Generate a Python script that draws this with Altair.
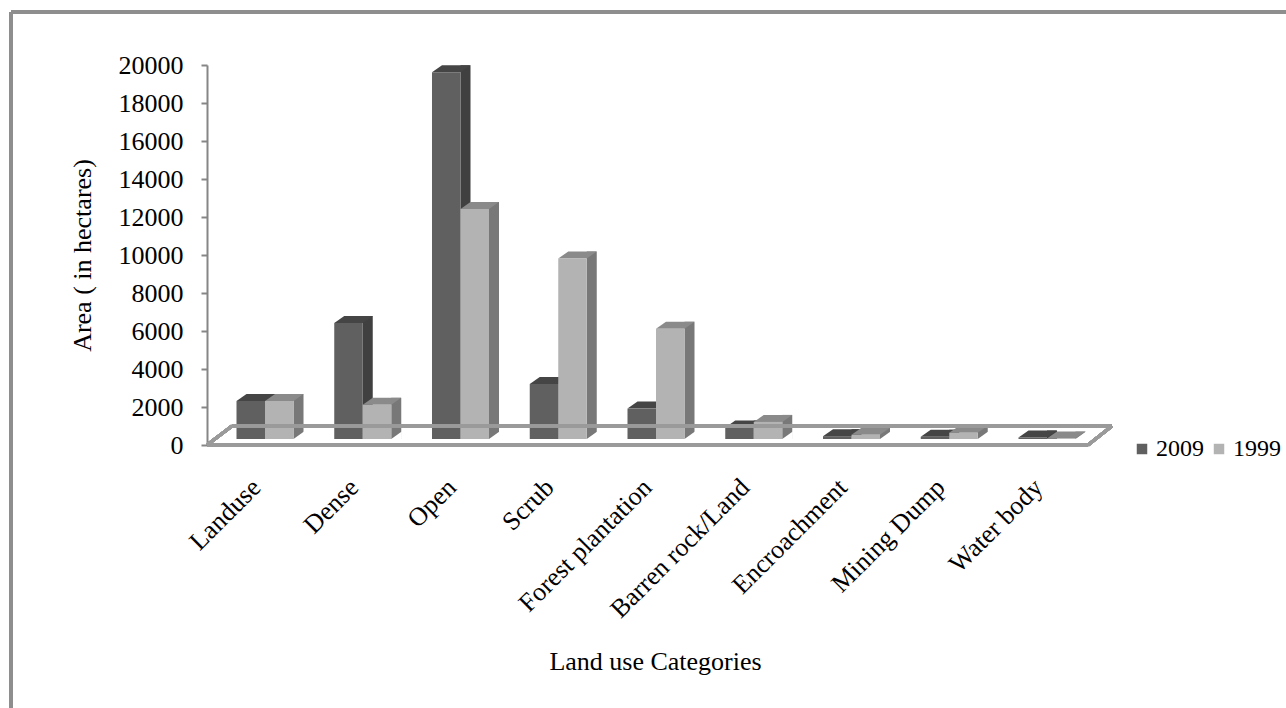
import json
import altair as alt
import pandas as pd

categories = ["Landuse", "Dense", "Open", "Scrub", "Forest plantation",
              "Barren rock/Land", "Encroachment", "Mining Dump", "Water body"]
area_2009 = [2000, 6100, 19300, 2900, 1600, 600, 150, 120, 80]
area_1999 = [2000, 1800, 12100, 9500, 5800, 900, 220, 330, 20]
years = ["2009", "1999"]
y_ticks = list(range(0, 20001, 2000))

rows = []
for i, c in enumerate(categories):
    rows.append({"idx": i, "category": c, "year": "2009", "area": area_2009[i]})
    rows.append({"idx": i, "category": c, "year": "1999", "area": area_1999[i]})
df = pd.DataFrame(rows)

FONT = "Liberation Serif"
AX = "#868686"
BAR_W = 0.2916   # bar width in category units
DX, DY, BASE = 10, 7, 6

base = alt.Chart(df).transform_calculate(
    x0=f"datum.year == '2009' ? datum.idx - {BAR_W} : datum.idx",
    x1=f"datum.year == '2009' ? datum.idx : datum.idx + {BAR_W}",
    zero="0",
)

xscale = alt.Scale(domain=[-0.5934, 8.665], nice=False, zero=False)
yscale = alt.Scale(domain=[0, 20000], nice=False)

label_expr = json.dumps(categories) + "[datum.value]"

x_axis = alt.Axis(values=list(range(len(categories))), labelExpr=label_expr,
                  labelAngle=315, labelAlign="right", labelBaseline="middle",
                  labelFont=FONT, labelFontSize=26, labelColor="black", labelLimit=400,
                  labelPadding=38, labelOffset=-9, domain=False, ticks=False, tickSize=0,
                  grid=False, titleFont=FONT,
                  titleFontSize=26, titleFontWeight="normal", titleColor="black",
                  titleX=448, titleY=224, titleAlign="center", titleBaseline="alphabetic",
                  labelOverlap=False)
y_axis = alt.Axis(values=y_ticks, format="d", tickSize=6, tickColor=AX, tickWidth=2,
                  domainColor=AX, domainWidth=2, labelFont=FONT, labelFontSize=26,
                  labelColor="black", labelPadding=18, grid=False,
                  titleFont=FONT, titleFontSize=26,
                  titleFontWeight="normal", titleColor="black", titleX=-117, titleY=190,
                  titleAngle=270, titleBaseline="alphabetic", titleAlign="center")
X_TITLE = "Land use Categories"
Y_TITLE = "Area ( in hectares)"


def xenc(field):
    return alt.X(field, scale=xscale, axis=x_axis, title=X_TITLE)


def yenc(field):
    return alt.Y(field, scale=yscale, axis=y_axis, title=Y_TITLE)


# frame (border) lines
border_left = alt.Chart(df).mark_rule(color="#8e8e8e", strokeWidth=3).encode(
    x=alt.value(-196), y=alt.value(-53), y2=alt.value(643))
border_top = alt.Chart(df).mark_rule(color="#8e8e8e", strokeWidth=3).encode(
    x=alt.value(-196), x2=alt.value(1079), y=alt.value(-53))

# 3D floor
floor_style = dict(color="#9a9a9a", strokeWidth=3)
floor_front = alt.Chart(df).mark_rule(**floor_style).encode(
    x=alt.value(0), x2=alt.value(881), y=alt.value(380))
floor_back = alt.Chart(df).mark_rule(**floor_style).encode(
    x=alt.value(25), x2=alt.value(905), y=alt.value(361))
floor_l = alt.Chart(df).mark_rule(**floor_style).encode(
    x=alt.value(0), x2=alt.value(25), y=alt.value(380), y2=alt.value(361))
floor_r = alt.Chart(df).mark_rule(**floor_style).encode(
    x=alt.value(881), x2=alt.value(905), y=alt.value(380), y2=alt.value(361))

side = base.mark_rect(x2Offset=DX, yOffset=-(BASE + DY), y2Offset=-BASE).encode(
    x=xenc("x1:Q"),
    x2="x1:Q",
    y=yenc("area:Q"),
    y2="zero:Q",
    color=alt.condition(alt.datum.year == "2009", alt.value("#404040"), alt.value("#787878")),
)

cover = base.transform_filter(alt.datum.year == "1999").mark_point(
    shape="M0,0L10.5,0L10.5,-7.5Z", size=4, filled=True, opacity=1, strokeWidth=0,
    yOffset=-BASE, color="white").encode(
    x=xenc("x1:Q"),
    y=yenc("zero:Q"),
)

top = base.mark_point(
    shape="M0,0L28.5,0L38.5,-7L10,-7Z", size=4, filled=True, opacity=1,
    strokeWidth=0, yOffset=-BASE).encode(
    x=xenc("x0:Q"),
    y=yenc("area:Q"),
    color=alt.condition(alt.datum.year == "2009", alt.value("#454545"), alt.value("#8a8a8a")),
)

front = base.mark_rect(yOffset=-BASE, y2Offset=-BASE).encode(
    x=xenc("x0:Q"),
    x2="x1:Q",
    y=yenc("area:Q"),
    y2="zero:Q",
    color=alt.Color("year:N", scale=alt.Scale(domain=years, range=["#606060", "#b3b3b3"]),
                    legend=alt.Legend(orient="none", legendX=923, legendY=372,
                                      direction="horizontal", title=None, padding=0,
                                      symbolType="square", symbolSize=110,
                                      symbolStrokeWidth=0, labelFont=FONT,
                                      labelFontSize=24, labelColor="black",
                                      columnPadding=3, labelOffset=2)),
)

chart = alt.layer(
    side, cover, top, front,
    border_left, border_top, floor_back, floor_l, floor_r, floor_front,
).properties(
    width=905, height=380,
    padding={"left": 207, "top": 65, "right": 174, "bottom": 263},
    autosize=alt.AutoSizeParams(type="none"),
    background="white",
).configure(font=FONT).configure_view(stroke=None).configure_legend(labelFont=FONT)

chart.save("out.html", embed_options={"renderer": "svg", "actions": False})
